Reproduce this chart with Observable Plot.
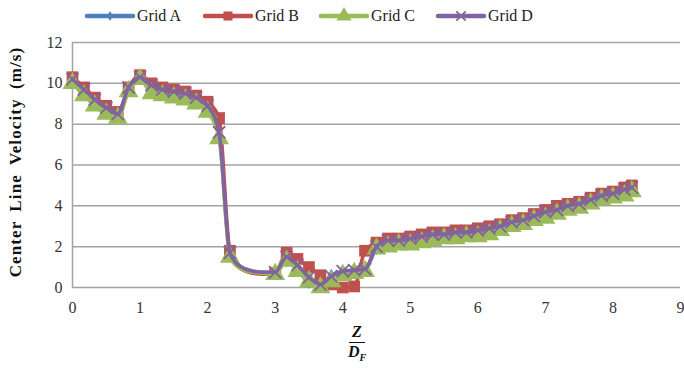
<!DOCTYPE html>
<html><head><meta charset="utf-8">
<script src="https://cdn.jsdelivr.net/npm/d3@7"></script>
<script src="https://cdn.jsdelivr.net/npm/@observablehq/plot@0.6"></script>
<style>
body{margin:0;background:#fff;}
#wrap{position:relative;width:684px;height:368px;font-family:"Liberation Serif",serif;overflow:hidden;}
#legend{position:absolute;left:0;top:0;}
#chart{position:absolute;left:0;top:30px;}
#ytitle{position:absolute;left:-124px;top:152px;width:280px;text-align:center;transform:rotate(-90deg);transform-origin:center;font-weight:bold;font-size:17px;letter-spacing:1.1px;word-spacing:4px;color:#111;white-space:nowrap;}
#xtitle{position:absolute;left:327px;top:323px;width:60px;text-align:center;font-weight:bold;font-style:italic;font-size:16px;color:#111;line-height:17px;}
#xtitle .num{display:inline-block;border-bottom:1.5px solid #111;padding:0 3px 2px 3px;}
#xtitle sub{font-size:10px;}
</style>
</head><body>
<div id="wrap">
<div id="legend"></div>
<div id="chart"></div>
<div id="ytitle">Center Line Velocity (m/s)</div>
<div id="xtitle"><span class="num">Z</span><br><span>D<sub>F</sub></span></div>
</div>
<script>
const seriesNames = ["Grid A", "Grid B", "Grid C", "Grid D"];
const seriesColors = ["#4F81BD", "#C0504D", "#9BBB59", "#8064A2"];
const xTicks = [0,1,2,3,4,5,6,7,8,9];
const yTicks = [0,2,4,6,8,10,12];

const z = [0,0.17,0.33,0.5,0.67,0.83,1.0,1.17,1.33,1.5,1.67,1.83,2.0,2.17,2.33,2.5,2.67,2.83,3.0,3.17,3.33,3.5,3.67,3.83,4.0,4.17,4.33,4.5,4.67,4.83,5.0,5.17,5.33,5.5,5.67,5.83,6.0,6.17,6.33,6.5,6.67,6.83,7.0,7.17,7.33,7.5,7.67,7.83,8.0,8.17,8.28];
// markers hidden in the smooth segment after the drop
const markerShown = z.map(v => !(v > 2.4 && v < 2.95));

const gridA = [10.2,9.7,9.1,8.8,8.5,9.7,10.3,9.9,9.7,9.6,9.5,9.3,8.9,7.5,1.7,1.0,0.8,0.75,0.75,1.3,0.9,0.25,0.15,0.6,0.8,0.85,0.9,1.9,2.2,2.3,2.4,2.5,2.55,2.6,2.7,2.7,2.8,2.9,3.0,3.2,3.3,3.5,3.7,3.8,4.0,4.1,4.3,4.5,4.6,4.8,4.9];
const gridB = [10.3,9.8,9.3,8.9,8.6,9.8,10.4,10.0,9.8,9.7,9.6,9.4,9.1,8.3,1.8,0.9,0.7,0.65,0.7,1.7,1.4,1.0,0.6,0.15,0.0,0.05,1.8,2.2,2.4,2.4,2.5,2.6,2.7,2.7,2.8,2.8,2.9,3.0,3.1,3.3,3.4,3.6,3.8,4.0,4.1,4.2,4.4,4.6,4.7,4.9,5.0];
const gridC = [10.0,9.4,8.9,8.5,8.3,9.6,10.2,9.5,9.4,9.3,9.2,9.0,8.6,7.3,1.5,0.9,0.75,0.7,0.65,1.3,0.8,0.3,0.0,0.3,0.6,0.7,0.8,1.9,2.0,2.1,2.1,2.2,2.3,2.4,2.4,2.5,2.5,2.6,2.8,3.0,3.1,3.3,3.4,3.6,3.8,3.9,4.1,4.3,4.4,4.5,4.7];
const gridD = [10.2,9.7,9.2,8.8,8.5,9.8,10.3,9.9,9.7,9.6,9.5,9.3,8.9,7.6,1.7,1.0,0.8,0.75,0.75,1.5,1.1,0.5,0.15,0.55,0.8,0.85,0.9,2.0,2.3,2.3,2.4,2.5,2.6,2.6,2.7,2.7,2.8,2.9,3.0,3.2,3.3,3.5,3.7,3.8,4.0,4.1,4.3,4.5,4.6,4.8,4.9];

const seriesValues = [gridA, gridB, gridC, gridD];
const symbols = ["diamond", "square", "triangle", "times"];
const radii = [4.0, 6.6, 7.4, 5.6];

const marks = [
  Plot.gridY(yTicks, {stroke: "#a3a3a3", strokeOpacity: 1, strokeWidth: 1.5}),
  Plot.ruleX([0], {stroke: "#a3a3a3", strokeWidth: 1.5}),
  Plot.axisX({ticks: xTicks, tickSize: 0, tickPadding: 14, label: null, tickFormat: d => String(d)}),
  Plot.axisY({ticks: yTicks, tickSize: 0, tickPadding: 10, label: null})
];

seriesValues.forEach((vals, i) => {
  const data = z.map((x, k) => ({x, y: vals[k], show: markerShown[k]}));
  marks.push(Plot.line(data, {x: "x", y: "y", stroke: seriesColors[i], strokeWidth: 3.6, curve: "monotone-x"}));
  const dots = data.filter(d => d.show);
  if (symbols[i] === "times") {
    marks.push(Plot.dot(dots, {x: "x", y: "y", symbol: "times", r: radii[i], stroke: seriesColors[i], strokeWidth: 1.8}));
  } else {
    marks.push(Plot.dot(dots, {x: "x", y: "y", symbol: symbols[i], r: radii[i], fill: seriesColors[i], stroke: "none"}));
  }
});

const chart = Plot.plot({
  width: 684, height: 338,
  marginLeft: 72, marginRight: 4, marginTop: 12, marginBottom: 81,
  x: {domain: [0, 9]},
  y: {domain: [0, 12]},
  style: {fontFamily: "Liberation Serif, serif", fontSize: "16px", color: "#333", background: "white"},
  marks
});
document.getElementById("chart").appendChild(chart);

// legend
const legendX = [87, 205, 321, 438];
const lsvg = d3.select("#legend").append("svg").attr("width", 684).attr("height", 30);
const symMap = {diamond: d3.symbolDiamond, square: d3.symbolSquare, triangle: d3.symbolTriangle, times: d3.symbolTimes};
seriesNames.forEach((name, i) => {
  const x0 = legendX[i];
  const g = lsvg.append("g");
  g.append("line").attr("x1", x0).attr("x2", x0 + 46).attr("y1", 16).attr("y2", 16)
    .attr("stroke", seriesColors[i]).attr("stroke-width", 4.5).attr("stroke-linecap", "round");
  const area = Math.PI * radii[i] * radii[i] * 0.6;
  const p = g.append("path").attr("d", d3.symbol(symMap[symbols[i]], area)()).attr("transform", `translate(${x0 + 23},16)`);
  if (symbols[i] === "times") p.attr("fill", "none").attr("stroke", seriesColors[i]).attr("stroke-width", 1.6);
  else p.attr("fill", seriesColors[i]);
  g.append("text").attr("x", x0 + 50).attr("y", 21).text(name)
    .attr("font-family", "Liberation Serif, serif").attr("font-size", 16).attr("fill", "#222");
});
</script>
</body></html>
